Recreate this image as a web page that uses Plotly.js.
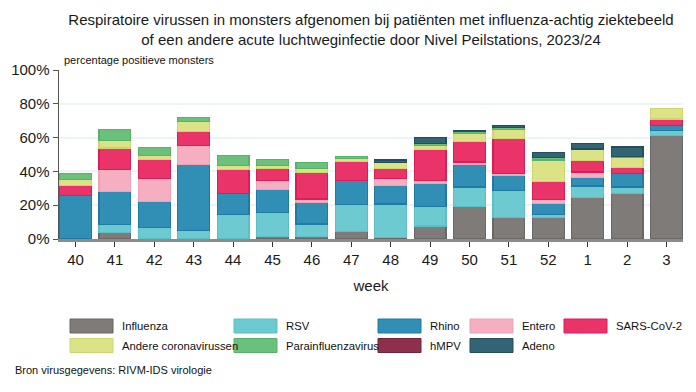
<!DOCTYPE html>
<html>
<head>
<meta charset="utf-8">
<script src="https://cdn.plot.ly/plotly-3.0.1.min.js"></script>
<style>
  html, body { margin: 0; padding: 0; background: #fff; }
  #chart { width: 696px; height: 392px; }
</style>
</head>
<body>
<div id="chart"></div>
<script>
// ---- Data ----
const weeks = ["40","41","42","43","44","45","46","47","48","49","50","51","52","1","2","3"];
const influenza = [0, 4.0, 0, 0, 0, 1.6, 1.6, 4.6, 1.0, 7.7, 19.0, 12.9, 12.5, 24.7, 26.9, 61.3];
const rsv       = [0, 4.5, 6.7, 5.2, 14.6, 14.0, 7.3, 16.0, 19.7, 11.3, 11.8, 15.6, 2.1, 6.7, 3.9, 3.1];
const rhino     = [25.7, 19.4, 15.4, 38.9, 12.3, 13.7, 12.9, 14.2, 11.1, 14.0, 13.5, 9.1, 6.6, 5.2, 8.0, 2.6];
const entero    = [0, 13.2, 13.9, 11.0, 0, 5.5, 1.9, 0, 3.8, 1.8, 1.3, 1.3, 2.1, 3.1, 0, 0];
const sarsCov2  = [6.1, 12.8, 11.2, 8.6, 14.2, 7.1, 15.8, 11.1, 6.3, 18.2, 12.3, 20.8, 10.5, 6.8, 3.7, 4.0];
const andereCorona = [3.6, 4.6, 2.2, 5.7, 2.2, 1.8, 2.2, 1.5, 3.6, 2.4, 4.6, 5.1, 13.0, 6.7, 5.5, 6.3];
const parainfluenza = [3.4, 6.3, 4.8, 2.6, 6.3, 3.5, 3.8, 1.6, 0, 1.3, 0.9, 1.0, 1.6, 0, 1.0, 0];
const hmpv      = [0, 0, 0, 0, 0, 0, 0, 0, 0, 0, 0, 0, 0, 0, 0, 0];
const adeno     = [0, 0, 0, 0, 0, 0, 0, 0, 1.3, 3.4, 1.0, 1.4, 2.6, 3.4, 5.4, 0];

const seriesNames = ["Influenza","RSV","Rhino","Entero","SARS-CoV-2","Andere coronavirussen","Parainfluenzavirus","hMPV","Adeno"];
const seriesValues = [influenza, rsv, rhino, entero, sarsCov2, andereCorona, parainfluenza, hmpv, adeno];
const fillColors = ["#7e7b79","#6ecad1","#318fb5","#f5afc1","#ea3369","#dce387","#6bc07b","#8c304d","#326473"];
const lineColors = ["#6a6765","#5bbfc7","#1f7ba6","#eea1b4","#da1f58","#cdd66e","#56b367","#76203b","#214f5d"];

const yTickVals = [0,20,40,60,80,100];
const yTickText = ["0%","20%","40%","60%","80%","100%"];

// ---- Layout helpers (pixel -> paper) ----
const W = 696, H = 392;
const M = {l: 59, r: 13, t: 70, b: 153};
const PW = W - M.l - M.r, PH = H - M.t - M.b;
const px = x => (x - M.l) / PW;
const py = y => (H - M.b - y) / PH;

const traces = seriesValues.map((vals, i) => ({
  type: 'bar',
  name: seriesNames[i],
  x: weeks,
  y: vals.map(v => v === 0 ? null : v),
  marker: {color: fillColors[i], line: {color: lineColors[i], width: 1.2}},
  showlegend: false,
  hoverinfo: 'name+y'
}));

// Custom legend: swatches + labels
const colX = [70, 234, 378, 470, 564];
const textX = [120, 284, 428, 520, 614];
const rowY = [326, 345.5];
const shapes = [];
const annotations = [];
seriesNames.forEach((name, i) => {
  const c = i % 5, r = Math.floor(i / 5);
  const x0 = colX[c], yc = rowY[r];
  shapes.push({
    type: 'rect', xref: 'paper', yref: 'paper',
    x0: px(x0), x1: px(x0 + 43), y0: py(yc + 7), y1: py(yc - 7),
    fillcolor: fillColors[i], line: {color: lineColors[i], width: 1}
  });
  annotations.push({
    xref: 'paper', yref: 'paper', x: px(textX[c]), y: py(yc),
    xanchor: 'left', yanchor: 'middle', showarrow: false, text: name,
    font: {family: 'Liberation Sans, Arial', size: 11.3, color: '#111'}
  });
});

annotations.push({
  xref: 'paper', yref: 'paper', x: px(62), y: py(59.5),
  xanchor: 'left', yanchor: 'middle', showarrow: false,
  text: 'percentage positieve monsters',
  font: {family: 'Liberation Sans, Arial', size: 11, color: '#111'}
});
annotations.push({
  xref: 'paper', yref: 'paper', x: px(13), y: py(370),
  xanchor: 'left', yanchor: 'middle', showarrow: false,
  text: 'Bron virusgegevens: RIVM-IDS virologie',
  font: {family: 'Liberation Sans, Arial', size: 11, color: '#111'}
});

const layout = {
  width: W, height: H,
  margin: M,
  paper_bgcolor: '#ffffff',
  plot_bgcolor: '#ffffff',
  barmode: 'stack',
  bargap: 0.19,
  font: {family: 'Liberation Sans, Arial', color: '#1a1a1a'},
  title: {
    text: 'Respiratoire virussen in monsters afgenomen bij patiënten met influenza-achtig ziektebeeld<br>of een andere acute luchtweginfectie door Nivel Peilstations, 2023/24',
    font: {size: 15, color: '#1a1a1a', family: 'Liberation Sans, Arial'},
    x: 0.5, xref: 'paper', xanchor: 'center',
    y: 1 - 25 / H, yref: 'container', yanchor: 'top'
  },
  xaxis: {
    type: 'category',
    range: [-0.42, 15.42],
    showline: true, linecolor: '#8c8c8c', linewidth: 2.5,
    ticks: 'outside', ticklen: 5, tickcolor: '#333', tickwidth: 1,
    tickfont: {size: 15, color: '#1a1a1a'},
    showgrid: false, zeroline: false,
    title: {text: 'week', font: {size: 15, color: '#1a1a1a'}, standoff: 14}
  },
  yaxis: {
    range: [0, 100],
    tickvals: yTickVals, ticktext: yTickText,
    showline: true, linecolor: '#555', linewidth: 1.5,
    ticks: 'outside', ticklen: 5, tickcolor: '#555',
    tickfont: {size: 15, color: '#1a1a1a'},
    showgrid: true, gridcolor: '#eef3f3', gridwidth: 2,
    zeroline: false
  },
  shapes: shapes,
  annotations: annotations,
  showlegend: false
};

Plotly.newPlot('chart', traces, layout, {displayModeBar: false, staticPlot: true});
</script>
</body>
</html>
